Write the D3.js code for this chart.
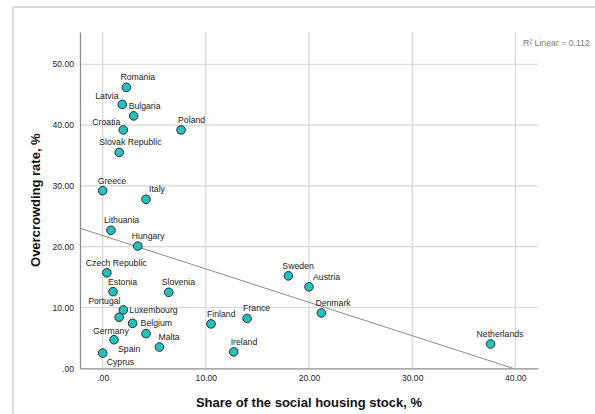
<!DOCTYPE html>
<html>
<head>
<meta charset="utf-8">
<script src="https://cdnjs.cloudflare.com/ajax/libs/d3/7.8.5/d3.min.js"></script>
<style>
  html, body { margin: 0; padding: 0; background: #fff; }
  svg { display: block; font-family: "Liberation Sans", Arial, sans-serif; }
</style>
</head>
<body>
<svg id="chart" width="595" height="414"></svg>
<script>
// ---- data ----
const countries = ["Romania","Latvia","Bulgaria","Croatia","Poland","Slovak Republic","Greece","Italy",
  "Lithuania","Hungary","Czech Republic","Estonia","Slovenia","Portugal","Luxembourg","Belgium",
  "Finland","France","Germany","Malta","Spain","Ireland","Cyprus","Sweden","Austria","Denmark","Netherlands"];
const socialHousing = [2.3,1.9,3.0,2.0,7.6,1.6,0.0,4.2,
  0.8,3.4,0.4,1.0,6.4,1.6,2.0,2.9,
  10.5,14.0,1.1,5.5,4.2,12.7,0.0,18.0,20.0,21.2,37.6];
const overcrowding = [46.2,43.4,41.5,39.2,39.2,35.5,29.2,27.8,
  22.7,20.1,15.7,12.6,12.5,8.4,9.6,7.4,
  7.3,8.2,4.7,3.5,5.7,2.7,2.5,15.2,13.4,9.1,4.0];
const xTicks = [0,10,20,30,40];
const yTicks = [0,10,20,30,40,50];
const xTitle = "Share of the social housing stock, %";
const yTitle = "Overcrowding rate, %";
const fitLabel = "R² Linear = 0.112";

// ---- label placement (layout only): offset of text start from point ----
const labelOffset = {
  "Romania":[-6,-10],"Latvia":[-27,-8],"Bulgaria":[-5,-10],"Croatia":[-31,-8],"Poland":[-3,-10],
  "Slovak Republic":[-20,-10],"Greece":[-5,-10],"Italy":[3,-10],"Lithuania":[-7,-10],"Hungary":[-6,-10],
  "Czech Republic":[-21,-10],"Estonia":[-5,-10],"Slovenia":[-7,-10],"Portugal":[-31,-16],
  "Luxembourg":[6,0],"Belgium":[8,0],"Finland":[-4,-10],"France":[-4,-10],"Germany":[-21,-9],
  "Malta":[-1,-10],"Spain":[-28,15],"Ireland":[-3,-10],"Cyprus":[4,9],"Sweden":[-6,-10],
  "Austria":[4,-10],"Denmark":[-6,-10],"Netherlands":[-14,-10]
};

const points = countries.map((c,i)=>({name:c, x:socialHousing[i], y:overcrowding[i]}));

const svg = d3.select("#chart");

// outer frame
svg.append("rect").attr("x",13).attr("y",7).attr("width",590).attr("height",420)
  .attr("fill","#fff").attr("stroke","#dcdcdc").attr("stroke-width",2);

const x = d3.scaleLinear().domain([-2.2, 42.2]).range([80, 538]);
const y = d3.scaleLinear().domain([0, 55.3]).range([368.3, 32]);
const fmt = v => v === 0 ? ".00" : d3.format(".2f")(v);

// gridlines
svg.append("g").selectAll("line").data(xTicks).join("line")
  .attr("x1",d=>x(d)).attr("x2",d=>x(d)).attr("y1",y.range()[1]).attr("y2",y.range()[0])
  .attr("stroke","#d6d6d6").attr("stroke-width",1.2);
svg.append("g").selectAll("line").data(yTicks.filter(d=>d>0)).join("line")
  .attr("x1",x.range()[0]).attr("x2",x.range()[1]).attr("y1",d=>y(d)).attr("y2",d=>y(d))
  .attr("stroke","#d6d6d6").attr("stroke-width",1.2);

// axes
const xAxis = svg.append("g").attr("transform",`translate(0,${y.range()[0]})`)
  .call(d3.axisBottom(x).tickValues(xTicks).tickFormat(fmt).tickSize(0).tickPadding(7));
const yAxis = svg.append("g").attr("transform",`translate(${x.range()[0]},0)`)
  .call(d3.axisLeft(y).tickValues(yTicks).tickFormat(fmt).tickSize(0).tickPadding(6));
[xAxis,yAxis].forEach(g=>{
  g.select(".domain").attr("stroke","#8c8c8c").attr("stroke-width",1.3);
  g.selectAll("text").attr("font-size","8.6px").attr("fill","#222")
   .attr("font-family","'Liberation Sans', Arial, sans-serif");
});

// regression line from data
const mx = d3.mean(points,d=>d.x), my = d3.mean(points,d=>d.y);
const sxy = d3.sum(points,d=>(d.x-mx)*(d.y-my)), sxx = d3.sum(points,d=>(d.x-mx)**2);
const slope = sxy/sxx, intercept = my - slope*mx;
const x0 = x.domain()[0];
const x1 = Math.min(x.domain()[1], -intercept/slope);
svg.append("line")
  .attr("x1",x(x0)).attr("y1",y(intercept+slope*x0))
  .attr("x2",x(x1)).attr("y2",y(intercept+slope*x1))
  .attr("stroke","#8c8c8c").attr("stroke-width",1);

// points
svg.append("g").selectAll("circle").data(points).join("circle")
  .attr("cx",d=>x(d.x)).attr("cy",d=>y(d.y)).attr("r",4.3)
  .attr("fill","#25c1c1").attr("stroke","#2a2a2a").attr("stroke-width",1);

// labels
svg.append("g").selectAll("text").data(points).join("text")
  .attr("x",d=>x(d.x)+labelOffset[d.name][0])
  .attr("y",d=>y(d.y)+labelOffset[d.name][1])
  .attr("dominant-baseline","central")
  .attr("font-size","8.7px").attr("fill","#222")
  .text(d=>d.name);

// fit label
svg.append("text").attr("x",523).attr("y",42.7).attr("dominant-baseline","central")
  .attr("font-size","8.7px").attr("fill","#7a7a7a").text(fitLabel);

// titles
svg.append("text").attr("x",(x.range()[0]+x.range()[1])/2).attr("y",402)
  .attr("text-anchor","middle").attr("dominant-baseline","central")
  .attr("font-size","13px").attr("font-weight","bold").attr("fill","#111").text(xTitle);
svg.append("text").attr("transform",`translate(35.5,${(y.range()[0]+y.range()[1])/2}) rotate(-90)`)
  .attr("text-anchor","middle").attr("dominant-baseline","central")
  .attr("font-size","13px").attr("font-weight","bold").attr("fill","#111").text(yTitle);
</script>
</body>
</html>
